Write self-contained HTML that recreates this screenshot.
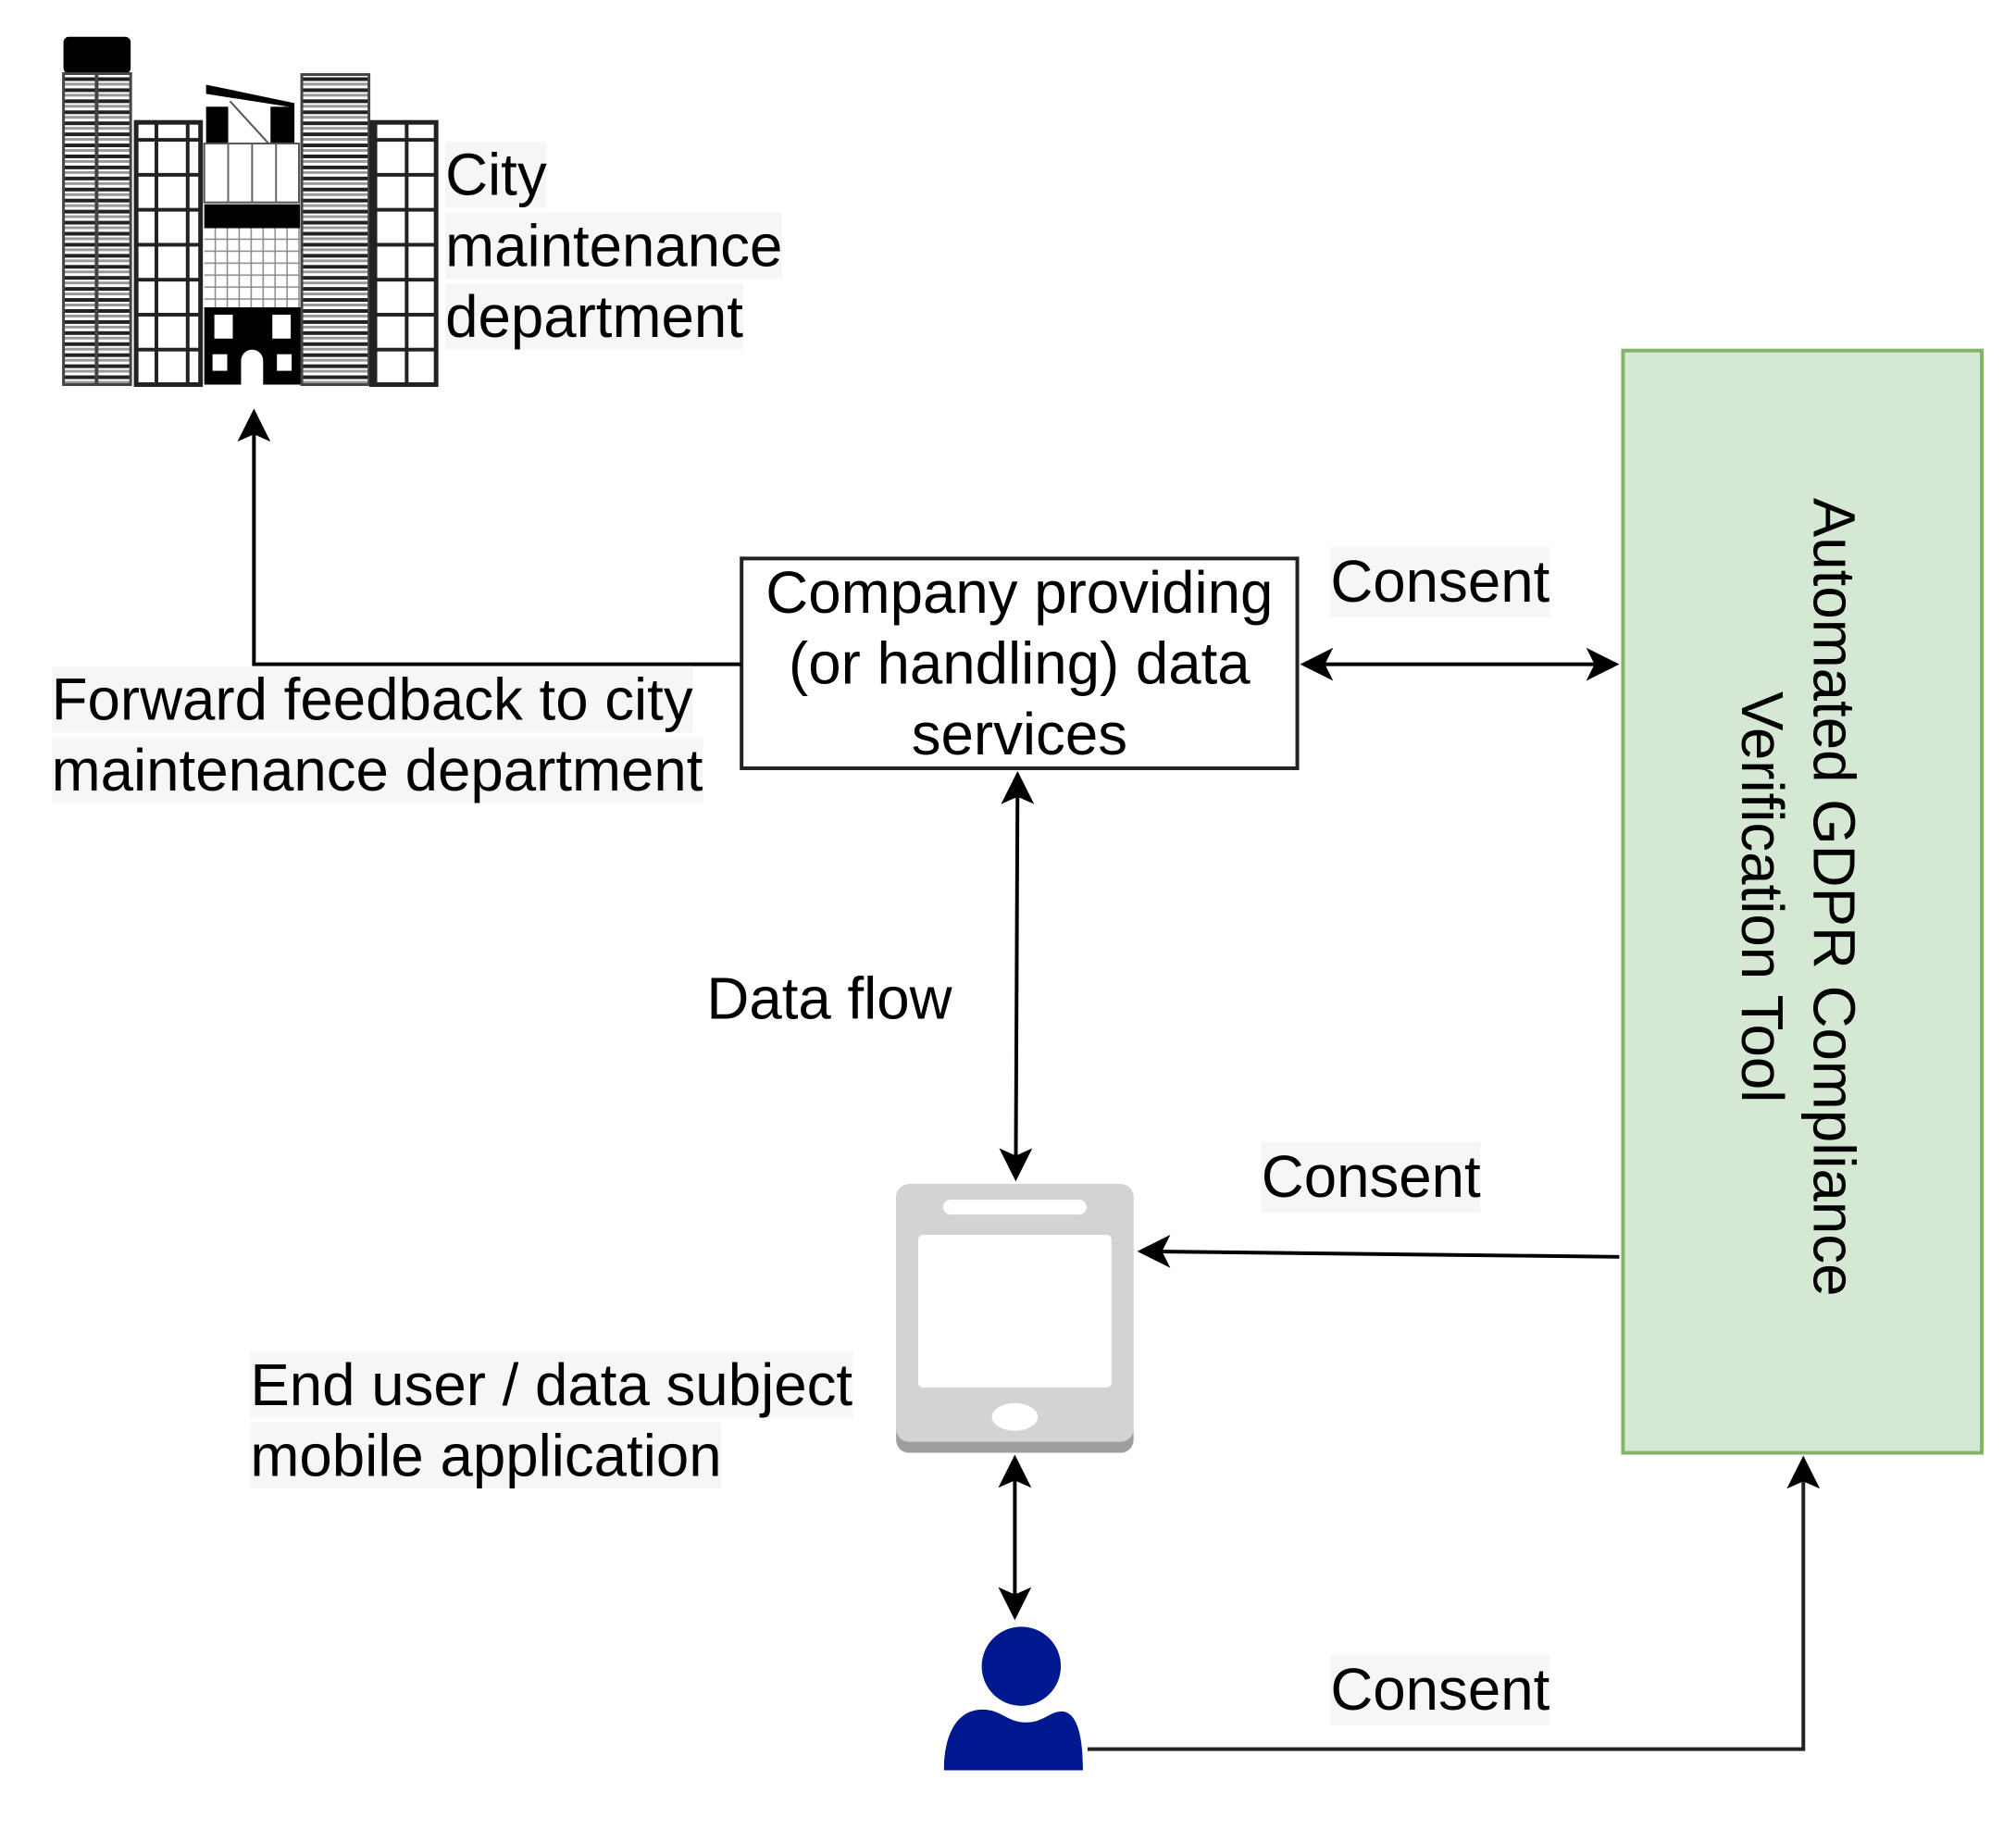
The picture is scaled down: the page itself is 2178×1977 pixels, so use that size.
<!DOCTYPE html>
<html><head><meta charset="utf-8"><style>
html,body{margin:0;padding:0;background:#fff;}
body{width:2178px;height:1977px;position:relative;overflow:hidden;font-family:"Liberation Sans",sans-serif;color:#000;}
#w{position:absolute;left:0;top:0;width:2178px;height:1977px;transform:scale(0.994);transform-origin:0 0;}
.t{position:absolute;font-size:64px;line-height:77px;white-space:nowrap;}
.bg{background:#f5f6f8;}
</style></head><body><div id="w">
<svg width="2178" height="1977" style="position:absolute;left:0;top:0">
<defs>
<pattern id="stripe" width="10" height="12" patternUnits="userSpaceOnUse"><rect width="10" height="12" fill="#fff"/><rect y="0" width="10" height="4" fill="#222"/><rect y="6" width="10" height="3" fill="#999"/></pattern>
<pattern id="grid" width="34" height="38" patternUnits="userSpaceOnUse"><rect width="34" height="38" fill="#fff" stroke="#222" stroke-width="4"/></pattern>
<pattern id="fine" width="13" height="13" patternUnits="userSpaceOnUse"><rect width="13" height="13" fill="#fff" stroke="#888" stroke-width="1.5"/></pattern>
</defs>
<!-- building -->
<rect x="69" y="40" width="73" height="40" rx="6" fill="#000"/>
<rect x="69" y="80" width="73" height="338" fill="url(#stripe)" stroke="#444" stroke-width="3"/>
<line x1="105" y1="80" x2="105" y2="418" stroke="#444" stroke-width="4"/>
<rect x="148" y="133" width="70" height="285" fill="url(#grid)" stroke="#222" stroke-width="5"/>
<polygon points="224,92 320,112 320,117 224,102" fill="#000"/>
<rect x="224" y="116" width="24" height="40" fill="#000"/><rect x="294" y="116" width="26" height="40" fill="#000"/>
<line x1="250" y1="110" x2="292" y2="156" stroke="#555" stroke-width="2"/>
<rect x="222" y="156" width="103" height="64" fill="#fff" stroke="#555" stroke-width="2"/>
<line x1="248" y1="156" x2="248" y2="220" stroke="#666" stroke-width="2"/><line x1="274" y1="156" x2="274" y2="220" stroke="#666" stroke-width="2"/><line x1="300" y1="156" x2="300" y2="220" stroke="#666" stroke-width="2"/>
<rect x="222" y="222" width="104" height="26" fill="#000"/>
<rect x="222" y="248" width="104" height="86" fill="url(#fine)"/>
<rect x="222" y="334" width="106" height="84" fill="#000"/>
<rect x="233" y="342" width="20" height="26" fill="#fff"/><rect x="296" y="342" width="20" height="26" fill="#fff"/>
<rect x="231" y="385" width="16" height="18" fill="#fff"/><rect x="301" y="385" width="16" height="18" fill="#fff"/>
<path d="M262,418 V392 a12,12 0 0 1 24,0 V418 z" fill="#fff"/>
<rect x="328" y="81" width="73" height="337" fill="url(#stripe)" stroke="#444" stroke-width="3"/>
<rect x="404" y="133" width="70" height="285" fill="url(#grid)" stroke="#222" stroke-width="5"/>
<!-- company box -->
<rect x="806" y="607" width="604" height="228" fill="#fff" stroke="#222" stroke-width="4"/>
<!-- green box -->
<rect x="1764" y="381" width="390" height="1198" fill="#d5e8d4" stroke="#82b366" stroke-width="4"/>
<!-- forward feedback line -->
<polyline points="806,722 276,722 276,452" fill="none" stroke="#000" stroke-width="4"/>
<path d="M276,444 L258,480 L276,472 L294,480 z" fill="#000"/>
<!-- consent top double -->
<line x1="1420" y1="722" x2="1752" y2="722" stroke="#000" stroke-width="4"/>
<path d="M1413,722 L1449,704 L1440,722 L1449,740 z" fill="#000"/>
<path d="M1760,722 L1724,704 L1733,722 L1724,740 z" fill="#000"/>
<!-- data flow -->
<line x1="1106" y1="842" x2="1104" y2="1280" stroke="#000" stroke-width="4"/>
<path d="M1106,838 L1088,874 L1106,866 L1124,874 z" fill="#000"/>
<path d="M1104,1284 L1086,1248 L1104,1256 L1122,1248 z" fill="#000"/>
<!-- consent mid -->
<line x1="1760" y1="1366" x2="1240" y2="1360" stroke="#000" stroke-width="4"/>
<path d="M1236,1360 L1272,1342 L1263,1360 L1272,1378 z" fill="#000"/>
<!-- phone -->
<rect x="974" y="1287" width="258" height="292" rx="14" fill="#9e9e9e"/>
<rect x="974" y="1287" width="258" height="280" rx="14" fill="#d3d3d3"/>
<rect x="1025" y="1304" width="156" height="16" rx="8" fill="#fff"/>
<rect x="998" y="1342" width="210" height="166" rx="5" fill="#fff"/>
<ellipse cx="1103" cy="1540" rx="25" ry="15" fill="#fff"/>
<!-- phone-person -->
<line x1="1103" y1="1586" x2="1103" y2="1756" stroke="#000" stroke-width="4"/>
<path d="M1103,1581 L1085,1617 L1103,1609 L1121,1617 z" fill="#000"/>
<path d="M1103,1761 L1085,1725 L1103,1733 L1121,1725 z" fill="#000"/>
<!-- person -->
<circle cx="1110" cy="1811" r="43" fill="#00188f"/>
<path d="M1026,1924 C1026,1885 1040,1858 1068,1858 C1088,1858 1095,1872 1115,1872 C1135,1872 1140,1860 1155,1860 C1172,1862 1177,1890 1177,1924 z" fill="#00188f"/>
<!-- bottom consent line -->
<polyline points="1182,1901 1960,1901 1960,1590" fill="none" stroke="#222" stroke-width="4"/>
<path d="M1960,1582 L1942,1618 L1960,1610 L1978,1618 z" fill="#000"/>
<!-- vertical text -->
<text transform="translate(1993,975) rotate(90)" text-anchor="middle" font-family="Liberation Sans" font-size="64" dominant-baseline="central">Automated GDPR Compliance</text>
<text transform="translate(1915,975) rotate(90)" text-anchor="middle" font-family="Liberation Sans" font-size="64" dominant-baseline="central">Verification Tool</text>
</svg>
<div class="t" style="left:484px;top:152px"><span class="bg">City</span><br><span class="bg">maintenance</span><br><span class="bg">department</span></div>
<div class="t" style="left:56px;top:722px"><span class="bg">Forward feedback to city</span><br><span class="bg">maintenance department</span></div>
<div class="t" style="left:806px;top:606px;width:604px;text-align:center;">Company providing<br>(or handling) data<br>services</div>
<div class="t bg" style="left:1446px;top:594px">Consent</div>
<div class="t" style="left:768px;top:1047px">Data flow</div>
<div class="t bg" style="left:1371px;top:1241px">Consent</div>
<div class="t" style="left:272px;top:1467px"><span class="bg">End user / data subject</span><br><span class="bg">mobile application</span></div>
<div class="t bg" style="left:1446px;top:1798px">Consent</div>
</div></body></html>
